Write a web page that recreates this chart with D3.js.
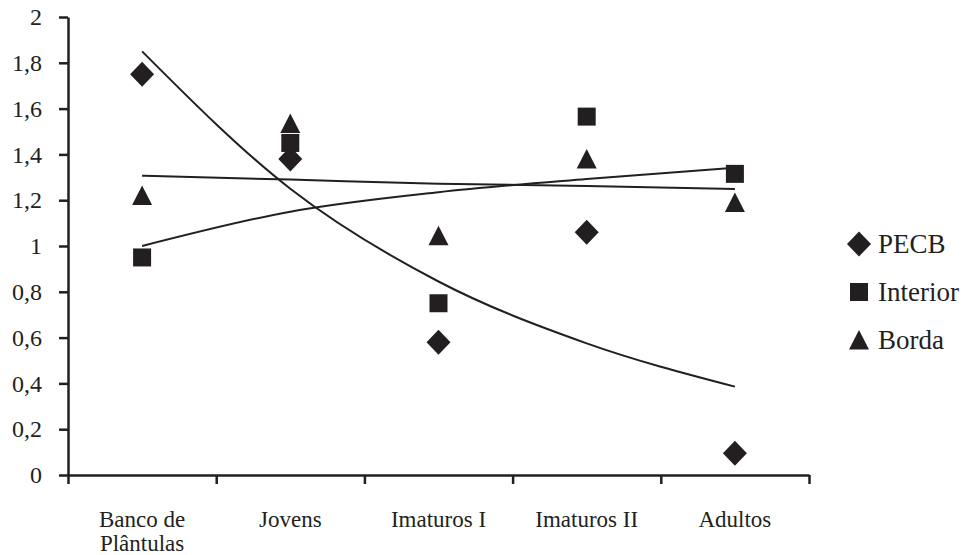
<!DOCTYPE html>
<html>
  <head>
    <meta charset="utf-8" />
    <script src="https://d3js.org/d3.v7.min.js"></script>
    <style>
      body{
        margin: 0;
        background: white;
      }
      svg text{
        font-family: 'Liberation Serif', 'Times New Roman', serif;
        fill: #231f20;
      }
    </style>
  </head>
  <body>
    <svg id="chart"></svg>
    <script>
      // values
      var categories = [["Banco de", "Plântulas"], ["Jovens"], ["Imaturos I"], ["Imaturos II"], ["Adultos"]];
      var pecb = [1.75, 1.38, 0.58, 1.06, 0.095];
      var interior = [0.95, 1.45, 0.75, 1.565, 1.315];
      var borda = [1.22, 1.535, 1.045, 1.38, 1.19];

      // trend lines (excel style), read at each category
      var pecbTrend = [1.85, 1.25, 0.845, 0.575, 0.386];
      var interiorTrend = [1.0, 1.15, 1.235, 1.293, 1.342];
      var bordaTrend = [1.307, 1.29, 1.272, 1.262, 1.249];

      var yTicks = [0, 0.2, 0.4, 0.6, 0.8, 1, 1.2, 1.4, 1.6, 1.8, 2];
      var yTickLabels = ["0", "0,2", "0,4", "0,6", "0,8", "1", "1,2", "1,4", "1,6", "1,8", "2"];

      var seriesNames = ["PECB", "Interior", "Borda"];

      var width = 968;
      var height = 555;
      var ink = "#231f20";

      var svg = d3.select("#chart")
        .attr("width", width)
        .attr("height", height);

      var x = d3.scaleLinear().domain([0, 5]).range([68, 809]);
      var y = d3.scaleLinear().domain([0, 2]).range([475, 17]);

      function cx(i) {
        return x(i + 0.5);
      }

      // y axis
      var yAxis = svg.append("g")
        .attr("transform", "translate(68,0)")
        .call(d3.axisLeft(y)
          .tickValues(yTicks)
          .tickFormat(function (d, i) { return yTickLabels[i]; })
          .tickSize(9)
          .tickSizeOuter(0)
          .tickPadding(17));
      yAxis.selectAll("text").style("font-size", "24px");

      // x axis, ticks on category boundaries
      var xAxis = svg.append("g")
        .attr("transform", "translate(0,475)")
        .call(d3.axisBottom(x)
          .tickValues([0, 1, 2, 3, 4, 5])
          .tickFormat("")
          .tickSize(9)
          .tickSizeOuter(0));

      svg.selectAll(".domain, .tick line")
        .attr("stroke", ink)
        .attr("stroke-width", 2.5);

      // category labels
      var labels = svg.append("g")
        .selectAll("text")
        .data(categories)
        .enter()
        .append("text")
        .attr("text-anchor", "middle")
        .style("font-size", "23px")
        .attr("transform", function (d, i) {
          return "translate(" + cx(i) + ",527)";
        });
      labels.selectAll("tspan")
        .data(function (d) { return d; })
        .enter()
        .append("tspan")
        .attr("x", 0)
        .attr("y", function (d, j) { return j * 24; })
        .text(function (d) { return d; });

      // trend lines
      var trendLine = d3.line()
        .x(function (d, i) { return cx(i); })
        .y(function (d) { return y(d); })
        .curve(d3.curveMonotoneX);

      svg.append("g")
        .selectAll("path")
        .data([pecbTrend, interiorTrend, bordaTrend])
        .enter()
        .append("path")
        .attr("d", trendLine)
        .attr("fill", "none")
        .attr("stroke", ink)
        .attr("stroke-width", 2);

      // marker shapes
      function markerPath(kind) {
        if (kind === "PECB") {
          return "M0,-12.5L12,0L0,12.5L-12,0Z";
        } else if (kind === "Interior") {
          return "M-9,-9H9V9H-9Z";
        }
        return "M0,-10L10,9.5H-10Z";
      }

      var allSeries = [pecb, interior, borda];

      allSeries.forEach(function (values, s) {
        svg.append("g")
          .selectAll("path")
          .data(values)
          .enter()
          .append("path")
          .attr("d", markerPath(seriesNames[s]))
          .attr("transform", function (d, i) {
            return "translate(" + cx(i) + "," + y(d) + ")";
          })
          .attr("fill", ink);
      });

      // legend
      var legend = svg.append("g")
        .attr("transform", "translate(859,244)")
        .selectAll("g")
        .data(seriesNames)
        .enter()
        .append("g")
        .attr("transform", function (d, i) {
          return "translate(0," + i * 48 + ")";
        });

      legend.append("path")
        .attr("d", function (d) { return markerPath(d); })
        .attr("fill", ink);

      legend.append("text")
        .attr("x", 19)
        .attr("y", 9)
        .style("font-size", "27px")
        .text(function (d) { return d; });
    </script>
  </body>
</html>
